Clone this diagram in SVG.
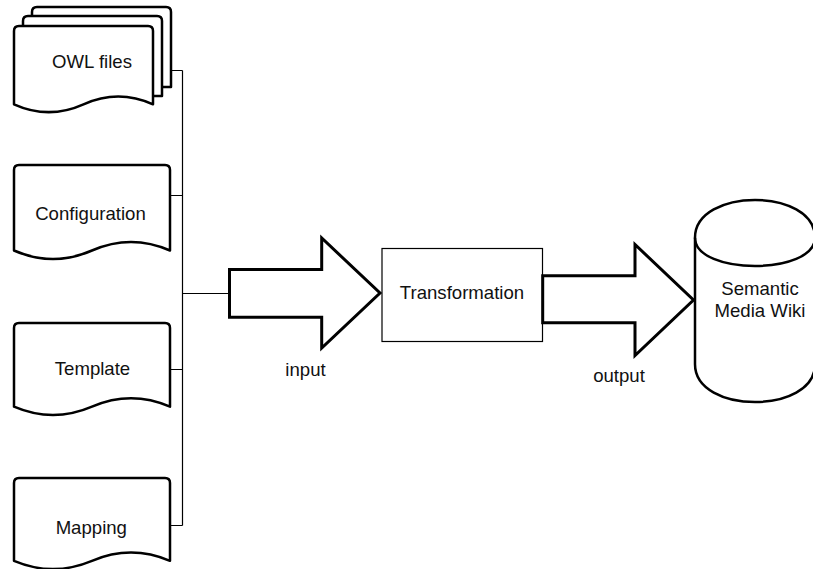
<svg xmlns="http://www.w3.org/2000/svg" width="813" height="569" viewBox="0 0 813 569">
  <style>
    .doc { fill: #ffffff; stroke: #000000; stroke-width: 2.5; stroke-linejoin: round; }
    .arrow { fill: #ffffff; stroke: #000000; stroke-width: 3; stroke-linejoin: miter; }
    .box { fill: #ffffff; stroke: #000000; stroke-width: 1.2; }
    .wire { fill: none; stroke: #000000; stroke-width: 1.2; }
    .label { font-family: "Liberation Sans", Arial, Helvetica, sans-serif; font-size: 18.6px; fill: #111111; text-anchor: middle; }
  </style>
  <rect width="813" height="569" fill="#ffffff"/>

  <!-- tree of connectors gathering the four inputs -->
  <g id="connectors">
    <path class="wire" d="M 171 70.5 H 182.5 M 170 195.5 H 182.5 M 170 369.5 H 182.5 M 170 525.5 H 182.5 M 182.5 70.5 V 525.5 M 182.5 293.5 H 230"/>
  </g>

  <!-- stacked documents -->
  <g id="owl-files">
    <path class="doc" d="M 32 22 V 12 Q 32 7 37 7 H 166 Q 171 7 171 12 V 87 H 162"/>
    <path class="doc" d="M 23 31 V 21 Q 23 16 28 16 H 157 Q 162 16 162 21 V 96 H 153"/>
    <path class="doc" d="M 14 104.3 V 31 Q 14 26 19 26 H 148 Q 153 26 153 31 V 104.3 Q 118.25 88.64 83.5 104.3 Q 48.75 119.96 14 104.3 Z"/>
    <text class="label" x="92" y="68">OWL files</text>
  </g>

  <g id="configuration">
    <path class="doc" d="M 14 250.5 V 170 Q 14 165 19 165 H 165 Q 170 165 170 170 V 250.5 Q 131 233.4 92 250.5 Q 53 267.6 14 250.5 Z"/>
    <text class="label" x="90.5" y="220">Configuration</text>
  </g>

  <g id="template">
    <path class="doc" d="M 14 406.7 V 328 Q 14 323 19 323 H 165 Q 170 323 170 328 V 406.7 Q 131 389.96 92 406.7 Q 53 423.44 14 406.7 Z"/>
    <text class="label" x="92.5" y="375">Template</text>
  </g>

  <g id="mapping">
    <path class="doc" d="M 14 560.8 V 483 Q 14 478 19 478 H 165 Q 170 478 170 483 V 560.8 Q 131 544.2 92 560.8 Q 53 577.4 14 560.8 Z"/>
    <text class="label" x="91.3" y="534">Mapping</text>
  </g>

  <!-- input arrow -->
  <g id="input">
    <polygon class="arrow" points="229.5,269.5 321.7,269.5 321.7,238 380,293 321.7,348 321.7,317.3 229.5,317.3"/>
    <text class="label" x="305.5" y="376">input</text>
  </g>

  <g id="transformation">
    <rect class="box" x="382" y="248.5" width="160.5" height="93"/>
    <text class="label" x="462" y="299">Transformation</text>
  </g>

  <!-- output arrow -->
  <g id="output">
    <polygon class="arrow" points="542.7,275.7 635,275.7 635,244.5 693.5,300 635,355.5 635,322.7 542.7,322.7"/>
    <text class="label" x="619" y="381.5">output</text>
  </g>

  <!-- database cylinder -->
  <g id="semantic-media-wiki">
    <path class="doc" d="M 695 237.7 C 695 187.4 815 187.4 815 237.7 L 815 364.3 C 815 414.6 695 414.6 695 364.3 Z"/>
    <path class="doc" fill="none" style="fill:none" d="M 695 237.7 C 695 275.4 815 275.4 815 237.7"/>
    <text class="label" x="760" y="295">Semantic</text>
    <text class="label" x="760" y="316.5">Media Wiki</text>
  </g>
</svg>
